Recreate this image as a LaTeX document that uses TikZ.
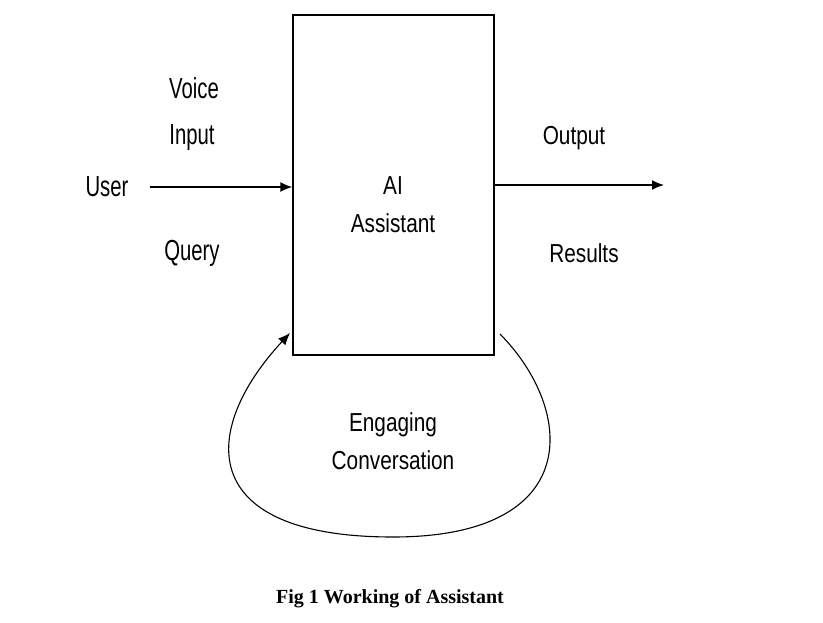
\documentclass[tikz,border=0pt]{standalone}
\usepackage{fontspec}
\setmainfont{Liberation Sans}
\newfontfamily\narrowfont[FakeStretch=0.70]{Liberation Sans}
\newfontfamily\labelfont[FakeStretch=0.80]{Liberation Sans}
\newfontfamily\captionfont{Liberation Serif}
\usetikzlibrary{arrows.meta,positioning}

\tikzset{
  flow/.style={line width=1.4pt, -{Latex[length=12pt,width=10pt]}},
  leftlbl/.style={font=\narrowfont\fontsize{29}{29}\selectfont, inner sep=0pt},
  rightlbl/.style={font=\labelfont\fontsize{26}{26}\selectfont, inner sep=0pt}
}

\begin{document}
\begin{tikzpicture}[x=1pt, y=-1pt]

\def \boxw {201}
\def \boxh {340}

\useasboundingbox (0,0) rectangle (823,622);

\node [draw, line width=1.4pt, minimum width=\boxw pt, minimum height=\boxh pt, inner sep=0pt] (assistant) at (393.5,185) {};
\node [rightlbl, align=center] (assistanttext) at (393,205) {AI\\[12pt]Assistant};

\node [leftlbl] (user) at (107,187) {User};
\node [leftlbl] (voice) at (194,88) {Voice};
\node [leftlbl] (input) at (192,138) {Input};
\node [leftlbl] (query) at (192,253) {Query};

\node [rightlbl] (output) at (574,138) {Output};
\node [rightlbl] (results) at (584,253) {Results};

\node [rightlbl, align=center] (engaging) at (393,441) {Engaging\\[12pt]Conversation};

\coordinate (outend) at (664,185);
\coordinate (loopstart) at (500,334);
\coordinate (loopend) at (290,333);

\draw [flow, shorten <=21pt] (user.east) -- (user.east -| assistant.west);
\draw [flow] (assistant.east |- outend) -- (outend);

% engaging conversation loop
\draw [flow, line width=1.1pt] (loopstart) .. controls (575,410) and (585,537) .. (393,537) .. controls (195,537) and (200,430) .. (loopend);

\node [font=\captionfont\bfseries\fontsize{20}{20}\selectfont] (caption) at (390,599) {Fig 1 Working of Assistant};
\end{tikzpicture}
\end{document}
